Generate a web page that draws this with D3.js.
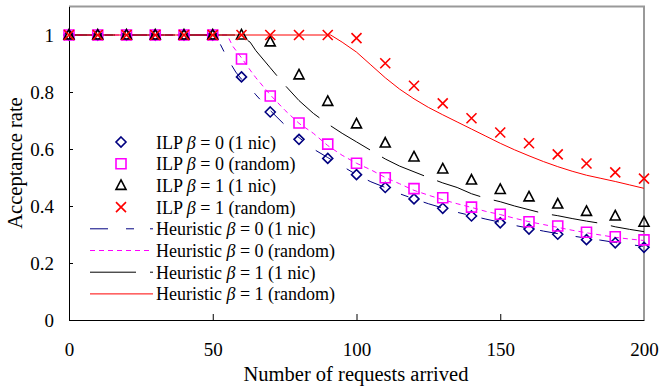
<!DOCTYPE html>
<html>
<head>
<meta charset="utf-8">
<script src="https://cdn.jsdelivr.net/npm/d3@7"></script>
<style>
  body { margin: 0; background: #fff; }
</style>
</head>
<body>
<svg id="chart" width="659" height="389"></svg>
<script>
// requests arrived (marker positions)
const reqs = [0,10,20,30,40,50,60,70,80,90,100,110,120,130,140,150,160,170,180,190,200];

// ILP results
const ilpB0Nic  = [1,1,1,1,1,1,0.853,0.73,0.634,0.567,0.51,0.465,0.425,0.392,0.365,0.341,0.319,0.301,0.282,0.271,0.255];
const ilpB0Rand = [1,1,1,1,1,1,0.916,0.786,0.691,0.617,0.55,0.499,0.461,0.429,0.396,0.371,0.345,0.33,0.308,0.292,0.281];
const ilpB1Nic  = [1,1,1,1,1,1,1,0.976,0.86,0.767,0.688,0.621,0.572,0.53,0.491,0.458,0.432,0.407,0.381,0.365,0.343];
const ilpB1Rand = [1,1,1,1,1,1,1,1,1,1,0.989,0.901,0.822,0.76,0.708,0.658,0.62,0.581,0.549,0.518,0.496];

// heuristic curves, [requests, rate]
const heurB0Nic = [[0,1],[50,1],[52,0.98],[55,0.92],[58,0.87],[60,0.845],[63,0.815],[65,0.79],[70,0.735],[75,0.685],[80,0.64],[85,0.6],[90,0.57],[95,0.54],[100,0.51],[105,0.485],[110,0.465],[115,0.443],[120,0.425],[125,0.408],[130,0.393],[135,0.378],[140,0.366],[145,0.354],[150,0.343],[155,0.332],[160,0.322],[165,0.312],[170,0.303],[175,0.295],[180,0.287],[185,0.28],[190,0.272],[195,0.265],[200,0.258]];
const heurB0Rand = [[0,1],[55,1],[57,0.96],[60,0.92],[63,0.877],[65,0.85],[70,0.79],[75,0.737],[80,0.69],[85,0.655],[90,0.612],[95,0.578],[100,0.55],[105,0.527],[110,0.5],[115,0.478],[120,0.455],[125,0.438],[130,0.422],[135,0.408],[140,0.395],[145,0.381],[150,0.37],[155,0.357],[160,0.345],[165,0.335],[170,0.325],[175,0.315],[180,0.306],[185,0.298],[190,0.29],[195,0.284],[200,0.279]];
const heurB1Nic = [[0,1],[58,1],[60,0.995],[63,0.975],[65,0.945],[70,0.885],[75,0.825],[80,0.77],[85,0.725],[90,0.688],[95,0.655],[100,0.625],[105,0.595],[110,0.565],[115,0.54],[120,0.52],[125,0.5],[130,0.481],[135,0.465],[140,0.443],[145,0.427],[150,0.415],[155,0.4],[160,0.387],[165,0.374],[170,0.366],[175,0.356],[180,0.347],[185,0.339],[190,0.327],[195,0.318],[200,0.31]];
const heurB1Rand = [[0,1],[91,1],[95,0.975],[100,0.94],[105,0.895],[110,0.85],[115,0.81],[120,0.776],[125,0.746],[130,0.72],[135,0.695],[140,0.67],[145,0.645],[150,0.62],[155,0.597],[160,0.576],[165,0.556],[170,0.538],[175,0.522],[180,0.508],[185,0.497],[190,0.486],[195,0.474],[200,0.462]];

const xTicks = [0,50,100,150,200];
const yTicks = [0,0.2,0.4,0.6,0.8,1];

const legendNames = [
  ["ILP ", " = 0 (1 nic)"], ["ILP ", " = 0 (random)"], ["ILP ", " = 1 (1 nic)"], ["ILP ", " = 1 (random)"],
  ["Heuristic ", " = 0 (1 nic)"], ["Heuristic ", " = 0 (random)"], ["Heuristic ", " = 1 (1 nic)"], ["Heuristic ", " = 1 (random)"]
];

const FONT = "'Liberation Serif', 'Times New Roman', 'DejaVu Serif', serif";

const svg = d3.select("#chart").style("font-family", FONT);
const x = d3.scaleLinear().domain([0, 200]).range([69, 644]);
const y = d3.scaleLinear().domain([0, 1.1]).range([320, 6.5]);

// frame: gray top/right, black left/bottom
svg.append("path")
  .attr("d", `M${x(0)},${y(1.1)}H${x(200)}V${y(0)}`)
  .attr("fill", "none").attr("stroke", "#999").attr("stroke-width", 2);

// axes
const xAxis = svg.append("g").attr("transform", `translate(0,${y(0)})`)
  .call(d3.axisBottom(x).tickValues(xTicks).tickSizeInner(-6).tickSizeOuter(0).tickPadding(23));
const yAxis = svg.append("g").attr("transform", `translate(${x(0)},0)`)
  .call(d3.axisLeft(y).tickValues(yTicks).tickSizeInner(-4).tickSizeOuter(0).tickPadding(15).tickFormat(d3.format("")));
[xAxis, yAxis].forEach(a => {
  a.attr("font-family", null).attr("font-size", 19);
  a.select(".domain").attr("stroke", "#000");
  a.selectAll(".tick line").attr("stroke", "#000");
  a.selectAll("text").attr("fill", "#000").style("font-family", FONT);
});
xAxis.selectAll(".tick").filter(d => d === 0 || d === 200).select("line").remove();

svg.append("text").attr("x", 356).attr("y", 381).attr("text-anchor", "middle")
  .attr("font-size", 20.5).style("font-family", FONT).text("Number of requests arrived");
svg.append("text").attr("transform", "translate(22,163) rotate(-90)").attr("text-anchor", "middle")
  .attr("font-size", 20.5).style("font-family", FONT).text("Acceptance rate");

// heuristic lines
const line = d3.line().x(d => x(d[0])).y(d => y(d[1]));
const heur = [
  {data: heurB0Nic, color: "#000080", dash: "18,18,8,16"},
  {data: heurB0Rand, color: "#ff00ff", dash: "5,4"},
  {data: heurB1Nic, color: "#000000", dash: "46,14"},
  {data: heurB1Rand, color: "#ff0000", dash: null}
];
heur.forEach(h => {
  svg.append("path").datum(h.data).attr("d", line)
    .attr("fill", "none").attr("stroke", h.color).attr("stroke-width", 1)
    .attr("stroke-dasharray", h.dash);
});

// ILP markers
const markerPath = {
  diamond: "M0,-5L5,0L0,5L-5,0Z",
  square: "M-5,-5H5V5H-5Z",
  triangle: "M0,-5.5L5,4L-5,4Z",
  cross: "M-5,-5L5,5M5,-5L-5,5"
};
const ilp = [
  {vals: ilpB0Nic, color: "#000080", shape: "diamond"},
  {vals: ilpB0Rand, color: "#ff00ff", shape: "square"},
  {vals: ilpB1Nic, color: "#000000", shape: "triangle"},
  {vals: ilpB1Rand, color: "#ff0000", shape: "cross"}
];
ilp.forEach(s => {
  svg.append("g").selectAll("path").data(s.vals).join("path")
    .attr("transform", (d, i) => `translate(${x(reqs[i])},${y(d)})`)
    .attr("d", markerPath[s.shape])
    .attr("fill", "none").attr("stroke", s.color).attr("stroke-width", 1.6);
});

// legend
const leg = svg.append("g");
const rowY = i => 147 + i * 21.7;
ilp.forEach((s, i) => {
  leg.append("path").attr("transform", `translate(121,${rowY(i) - 5})`)
    .attr("d", markerPath[s.shape]).attr("fill", "none")
    .attr("stroke", s.color).attr("stroke-width", 1.6);
});
heur.forEach((h, i) => {
  leg.append("line").attr("x1", 90).attr("x2", 153)
    .attr("y1", rowY(i + 4) - 5).attr("y2", rowY(i + 4) - 5)
    .attr("stroke", h.color).attr("stroke-width", 1).attr("stroke-dasharray", h.dash);
});
legendNames.forEach((n, i) => {
  const t = leg.append("text").attr("x", 156).attr("y", rowY(i) + 1.5).attr("font-size", 18)
    .attr("fill", "#000").style("font-family", FONT);
  t.append("tspan").text(n[0]);
  t.append("tspan").attr("font-style", "italic").text("\u03b2");
  t.append("tspan").text(n[1]);
});
</script>
</body>
</html>
